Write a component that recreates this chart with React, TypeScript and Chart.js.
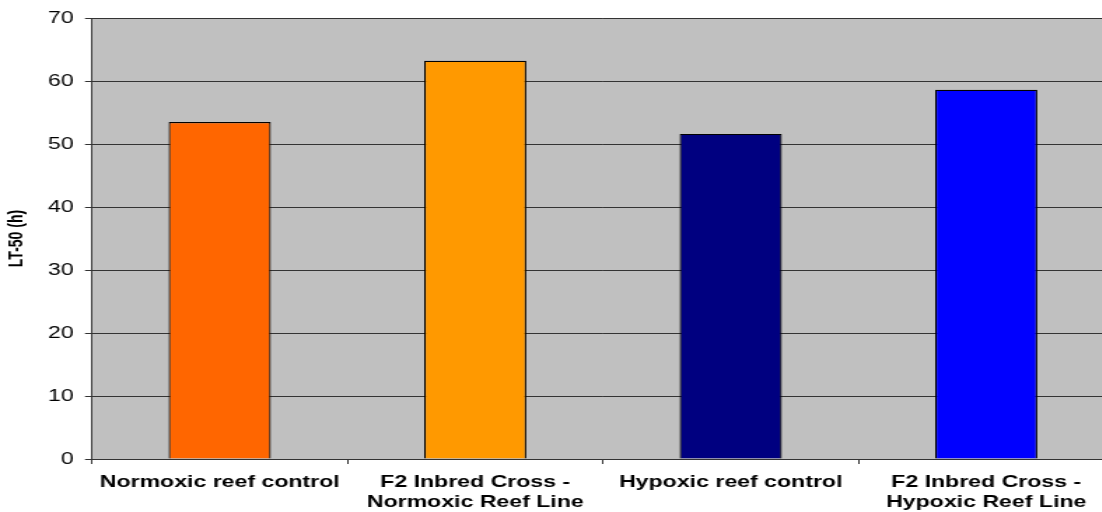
import React, { useEffect, useRef } from "react";
import { Chart, registerables } from "chart.js";

Chart.register(...registerables);

const categories: (string | string[])[] = [
  "Normoxic reef control",
  ["F2 Inbred Cross -", "Normoxic Reef Line"],
  "Hypoxic reef control",
  ["F2 Inbred Cross -", "Hypoxic Reef Line"],
];
const values = [53.5, 63.2, 51.6, 58.6];
const barColors = ["#FF6600", "#FF9900", "#000080", "#0000FF"];
const yMin = 0;
const yMax = 70;
const yStep = 10;
const yTitle = "LT-50 (h)";

const STRETCH = 1.4;
const CANVAS_W = 800;
const CANVAS_H = 512;

const bgPlugin = {
  id: "plotBg",
  beforeDraw(chart: any) {
    const { ctx, chartArea } = chart;
    ctx.save();
    ctx.fillStyle = "#C0C0C0";
    ctx.fillRect(chartArea.left, chartArea.top, chartArea.width, chartArea.height);
    ctx.restore();
  },
};

export default function App() {
  const ref = useRef<HTMLCanvasElement | null>(null);
  useEffect(() => {
    if (!ref.current) return;
    const chart = new Chart(ref.current, {
      type: "bar",
      data: {
        labels: categories,
        datasets: [
          {
            data: values,
            backgroundColor: barColors,
            borderColor: "#000",
            borderWidth: 1.2,
            barPercentage: 0.4,
            categoryPercentage: 1,
          },
        ],
      },
      options: {
        animation: false,
        responsive: false,
        devicePixelRatio: 1,
        layout: { padding: { top: 18, right: 4.3, left: 0, bottom: 0 } },
        plugins: { legend: { display: false }, tooltip: { enabled: false } },
        scales: {
          x: {
            offset: true,
            grid: {
              drawOnChartArea: false,
              drawTicks: true,
              tickLength: 5,
              color: "#333",
              offset: true,
            },
            border: { display: true, color: "#333", width: 1 },
            ticks: {
              color: "#000",
              padding: 9,
              maxRotation: 0,
              autoSkip: false,
              font: { family: "'Liberation Sans', Arial, sans-serif", size: 16.5, weight: "bold", lineHeight: 1.2 },
            },
            afterFit(scale: any) {
              scale.height = 53;
            },
          },
          y: {
            min: yMin,
            max: yMax,
            grid: { color: "#333", tickLength: 5, lineWidth: 1 },
            border: { display: true, color: "#333", width: 1 },
            ticks: {
              stepSize: yStep,
              color: "#000",
              padding: 8,
              font: { family: "'Liberation Sans', Arial, sans-serif", size: 16.5 },
            },
            title: {
              display: true,
              text: yTitle,
              color: "#000",
              padding: { top: 4, bottom: 0 },
              font: { family: "'Liberation Sans', Arial, sans-serif", size: 14, weight: "bold" },
            },
            afterFit(scale: any) {
              scale.width = 65.71;
            },
          },
        },
      },
      plugins: [bgPlugin],
    } as any);
    return () => chart.destroy();
  }, []);

  return (
    <div
      style={{
        position: "fixed",
        left: 0,
        top: 0,
        width: 1102,
        height: 512,
        overflow: "hidden",
        background: "#fff",
      }}
    >
      <div
        style={{
          width: CANVAS_W,
          height: CANVAS_H,
          transform: `scaleX(${STRETCH})`,
          transformOrigin: "0 0",
        }}
      >
        <canvas ref={ref} width={CANVAS_W} height={CANVAS_H} style={{ display: "block" }} />
      </div>
    </div>
  );
}
